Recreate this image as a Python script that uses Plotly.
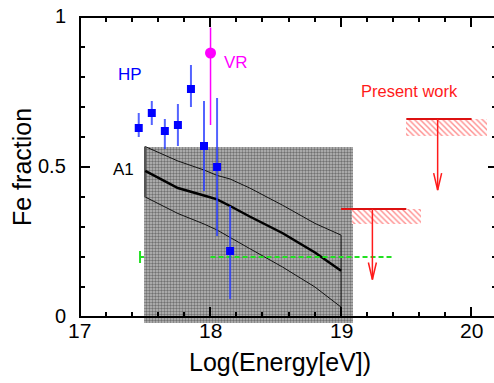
import plotly.graph_objects as go

# ---------------- data ----------------
hp_x = [17.45, 17.55, 17.65, 17.75, 17.85, 17.95, 18.05, 18.15]
hp_y = [0.63, 0.68, 0.62, 0.64, 0.76, 0.57, 0.50, 0.22]
hp_hi = [0.68, 0.72, 0.66, 0.71, 0.84, 0.72, 0.73, 0.37]
hp_lo = [0.60, 0.64, 0.56, 0.57, 0.70, 0.42, 0.27, 0.06]

vr_x = [18.0]
vr_y = [0.88]
vr_hi = [0.965]
vr_lo = [0.64]

a1_x = [17.5, 17.75, 17.95, 18.05, 18.15, 18.3, 18.55, 18.8, 19.0]
a1_upper = [0.568, 0.52, 0.49, 0.472, 0.46, 0.43, 0.373, 0.312, 0.273]
a1_mid = [0.487, 0.43, 0.405, 0.392, 0.37, 0.335, 0.28, 0.215, 0.154]
a1_lower = [0.40, 0.345, 0.31, 0.29, 0.265, 0.228, 0.167, 0.10, 0.033]
a1_box_x = [17.49, 19.09]
a1_box_y = [-0.02, 0.568]

green_cap_x = 17.46
green_y = 0.20
green_cap_half = 0.02
green_dash_x = [18.0, 19.4]

pw_line_x0 = [19.5, 19.0]
pw_line_x1 = [20.0, 19.5]
pw_y = [0.66, 0.36]
pw_hatch_x0 = [19.5, 19.08]
pw_hatch_x1 = [20.12, 19.61]
pw_hatch_lo = [0.604, 0.309]
pw_arrow_x = [19.74, 19.24]
pw_arrow_tip = [0.423, 0.125]

x_ticks = [17, 18, 19, 20]
x_ticklabels = ["17", "18", "19", "20"]
x_minor_step = 0.2
y_ticks = [0, 0.5, 1]
y_ticklabels = ["0", "0.5", "1"]
y_minor_step = 0.1

# ---------------- geometry / style ----------------
W, H = 494, 383
PL, PT, PB = 76, 13, 324           # plot-area pixel edges (left, top, bottom)
AX_X0_PX, AX_Y0_PX = 80, 317       # pixel position of x=17 and y=0
px_per_x = 130.53
px_per_y = 300.0
area_w = W - PL
area_h = PB - PT
x_range = [17 - (AX_X0_PX - PL) / px_per_x, 17 + (W - AX_X0_PX) / px_per_x]
y_range = [-(PB - AX_Y0_PX) / px_per_y, 1 + (AX_Y0_PX - px_per_y - PT) / px_per_y]
x_left, x_right = 17, x_range[1]
y_bot, y_top = 0, 1

RED = "#ff1a1a"
BLUE = "#0000ff"
GREEN = "#22e022"
MAG = "#ff00ff"
FONT = "Liberation Sans, Arial, sans-serif"


def xp(v):
    return (v - x_range[0]) / (x_range[1] - x_range[0])


def yp(v):
    return (v - y_range[0]) / (y_range[1] - y_range[0])


fig = go.Figure()

# A1 checkered band
fig.add_trace(go.Bar(
    x=[(a1_box_x[0] + a1_box_x[1]) / 2], y=[a1_box_y[1] - a1_box_y[0]],
    base=[a1_box_y[0]], width=[a1_box_x[1] - a1_box_x[0]],
    marker=dict(color="#999999", line_width=0,
                pattern=dict(shape=".", fgcolor="#262626", bgcolor="#bcbcbc",
                             size=3, solidity=0.5)),
    showlegend=False, hoverinfo="skip"))

# A1 envelope (closed) and central line
env_x = a1_x + a1_x[::-1] + [a1_x[0]]
env_y = a1_upper + a1_lower[::-1] + [a1_upper[0]]
fig.add_trace(go.Scatter(x=env_x, y=env_y, mode="lines",
                         line=dict(color="#111111", width=1), showlegend=False))
fig.add_trace(go.Scatter(x=[a1_x[0], a1_x[0]], y=[a1_lower[0], a1_upper[0]], mode="lines",
                         line=dict(color="#555555", width=2.5), showlegend=False))
fig.add_trace(go.Scatter(x=a1_x, y=a1_mid, mode="lines",
                         line=dict(color="#000000", width=2.5), showlegend=False))

# green limit
fig.add_trace(go.Scatter(
    x=[green_cap_x, green_cap_x, None, green_cap_x, a1_box_x[0]],
    y=[green_y - green_cap_half, green_y + green_cap_half, None, green_y, green_y],
    mode="lines", line=dict(color=GREEN, width=2), showlegend=False))
fig.add_trace(go.Scatter(x=green_dash_x, y=[green_y, green_y], mode="lines",
                         line=dict(color=GREEN, width=2, dash="5px,3px"), showlegend=False))

# present work hatched regions
for x0, x1, ytop, ylo in zip(pw_hatch_x0, pw_hatch_x1, pw_y, pw_hatch_lo):
    fig.add_trace(go.Bar(
        x=[(x0 + x1) / 2], y=[ytop - ylo], base=[ylo], width=[x1 - x0],
        marker=dict(color="white", line_width=0,
                    pattern=dict(shape="\\", fgcolor=RED, bgcolor="white",
                                 size=4, solidity=0.35)),
        showlegend=False, hoverinfo="skip"))

# present work lines and arrows
head_w = 4.0 / px_per_x
head_l = 17.0 / px_per_y
for x0, x1, y, ax, tip in zip(pw_line_x0, pw_line_x1, pw_y, pw_arrow_x, pw_arrow_tip):
    fig.add_trace(go.Scatter(x=[x0, x1], y=[y, y], mode="lines",
                             line=dict(color="#dd1111", width=2), showlegend=False))
    fig.add_trace(go.Scatter(
        x=[ax, ax, None, ax - head_w, ax, ax + head_w],
        y=[y, tip, None, tip + head_l, tip, tip + head_l],
        mode="lines", line=dict(color=RED, width=1.5), showlegend=False))

# ---------------- frame and ticks as thin solid bar rectangles ----------------
bx, bw, bb, bh = [], [], [], []   # centre x, width, base, height (data units)


def rect(x0, x1, y0, y1):
    bx.append((x0 + x1) / 2)
    bw.append(abs(x1 - x0))
    bb.append(min(y0, y1))
    bh.append(abs(y1 - y0))


lw_x, lw_y = 2 / px_per_x, 2 / px_per_y      # frame line thickness
tw_x, tw_y = 1.5 / px_per_x, 1.5 / px_per_y  # tick thickness
# frame: top, bottom, left
rect(x_left - lw_x / 2, x_right, y_top - lw_y / 2, y_top + lw_y / 2)
rect(x_left - lw_x / 2, x_right, y_bot - lw_y / 2, y_bot + lw_y / 2)
rect(x_left - lw_x / 2, x_left + lw_x / 2, y_bot - lw_y / 2, y_top + lw_y / 2)

maj_x, maj_y = 10 / px_per_x, 10 / px_per_y
min_x, min_y = 5 / px_per_x, 5 / px_per_y
n_minor_x = int(round((x_right - x_left) / x_minor_step))
for i in range(1, n_minor_x + 1):
    v = round(x_left + i * x_minor_step, 6)
    if v > x_right:
        break
    ln = maj_y if any(abs(v - t) < 1e-6 for t in x_ticks) else min_y
    rect(v - tw_x / 2, v + tw_x / 2, y_bot, y_bot + ln)
    rect(v - tw_x / 2, v + tw_x / 2, y_top - ln, y_top)
n_minor_y = int(round((y_top - y_bot) / y_minor_step))
for i in range(1, n_minor_y):
    v = round(y_bot + i * y_minor_step, 6)
    major = any(abs(v - t) < 1e-6 for t in y_ticks)
    ln = maj_x if major else min_x
    rl = (6 / px_per_x) if major else (2 / px_per_x)
    rect(x_left, x_left + ln, v - tw_y / 2, v + tw_y / 2)
    rect(x_right - rl, x_right, v - tw_y / 2, v + tw_y / 2)

fig.add_trace(go.Bar(x=bx, width=bw, base=bb, y=bh,
                     marker=dict(color="#000000", line_width=0),
                     showlegend=False, hoverinfo="skip"))

# HP points
fig.add_trace(go.Scatter(
    x=hp_x, y=hp_y, mode="markers",
    marker=dict(symbol="square", size=8, color=BLUE, line_width=0),
    error_y=dict(type="data", symmetric=False,
                 array=[h - y for h, y in zip(hp_hi, hp_y)],
                 arrayminus=[y - l for l, y in zip(hp_lo, hp_y)],
                 color="rgba(40,60,255,0.8)", thickness=2, width=0),
    showlegend=False))

# VR point
fig.add_trace(go.Scatter(
    x=vr_x, y=vr_y, mode="markers",
    marker=dict(symbol="circle", size=11, color=MAG, line_width=0),
    error_y=dict(type="data", symmetric=False,
                 array=[h - y for h, y in zip(vr_hi, vr_y)],
                 arrayminus=[y - l for l, y in zip(vr_lo, vr_y)],
                 color=MAG, thickness=1.5, width=0),
    showlegend=False))

# ---------------- annotations ----------------
annotations = [
    dict(text="HP", x=17.383, y=0.807, xref="x", yref="y", showarrow=False,
         font=dict(size=17, color=BLUE, family=FONT)),
    dict(text="VR", x=18.195, y=0.85, xref="x", yref="y", showarrow=False,
         font=dict(size=17, color=MAG, family=FONT)),
    dict(text="Present work", x=19.528, y=0.754, xref="x", yref="y", showarrow=False,
         font=dict(size=16.5, color=RED, family=FONT)),
    dict(text="A1", x=17.33, y=0.493, xref="x", yref="y", showarrow=False,
         font=dict(size=17, color="black", family=FONT)),
    dict(text="Log(Energy[eV])", x=(280 - PL) / area_w, y=(PB - 362) / area_h,
         xref="paper", yref="paper", showarrow=False, xanchor="center", yanchor="middle",
         font=dict(size=25, color="black", family=FONT)),
    dict(text="Fe fraction", x=(22 - PL) / area_w, y=(PB - 167) / area_h,
         xref="paper", yref="paper", showarrow=False, xanchor="center", yanchor="middle",
         textangle=-90, font=dict(size=25, color="black", family=FONT)),
]
for t, lab in zip(x_ticks, x_ticklabels):
    annotations.append(dict(text=lab, x=xp(t), y=yp(y_bot), xref="paper", yref="paper",
                            showarrow=False, xanchor="center", yanchor="middle", yshift=-13,
                            font=dict(size=21, color="black", family=FONT)))
for t, lab in zip(y_ticks, y_ticklabels):
    annotations.append(dict(text=lab, x=xp(x_left), y=yp(t), xref="paper", yref="paper",
                            showarrow=False, xanchor="right", yanchor="middle", xshift=-12,
                            yshift=1,
                            font=dict(size=20, color="black", family=FONT)))

fig.update_layout(
    width=W, height=H,
    margin=dict(l=PL, r=0, t=PT, b=H - PB, pad=0),
    paper_bgcolor="white", plot_bgcolor="white",
    barmode="overlay", bargap=0, showlegend=False,
    font=dict(family=FONT, color="black"),
    xaxis=dict(range=x_range, showline=False, ticks="", showticklabels=False,
               showgrid=False, zeroline=False, fixedrange=True),
    yaxis=dict(range=y_range, showline=False, ticks="", showticklabels=False,
               showgrid=False, zeroline=False, fixedrange=True),
    annotations=annotations,
)

fig.write_html("out.html")
